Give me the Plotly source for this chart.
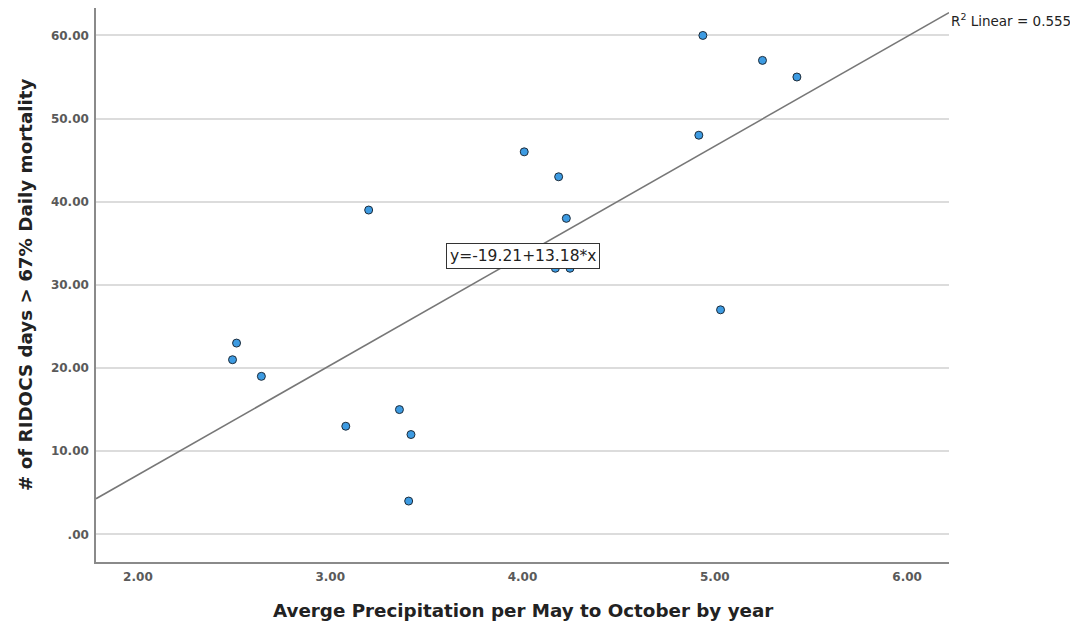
import plotly.graph_objects as go

# Data
precip = [2.513, 2.492, 2.642, 3.081, 3.360, 3.420, 3.408, 5.030, 4.938,
          4.917, 4.009, 4.188, 3.200, 4.228, 4.171, 4.247, 5.248, 5.427]
mort_days = [23, 21, 19, 13, 15, 12, 4, 27, 60,
             48, 46, 43, 39, 38, 32, 32, 57, 55]

intercept = -19.21
slope = 13.18
r2 = 0.555

x_range = [1.782, 6.218]
y_range = [-3.33, 63.3]
x_ticks = [2, 3, 4, 5, 6]
x_ticklabels = ["2.00", "3.00", "4.00", "5.00", "6.00"]
y_ticks = [0, 10, 20, 30, 40, 50, 60]
y_ticklabels = [".00", "10.00", "20.00", "30.00", "40.00", "50.00", "60.00"]

fit_x = x_range
fit_y = [intercept + slope * v for v in fit_x]

fig = go.Figure()
fig.add_trace(go.Scatter(
    x=fit_x, y=fit_y, mode="lines",
    line=dict(color="#777777", width=1.6),
    hoverinfo="skip", showlegend=False, cliponaxis=False))
fig.add_trace(go.Scatter(
    x=precip, y=mort_days, mode="markers",
    marker=dict(size=8, color="#3d9be2", line=dict(color="#1e2c3a", width=1)),
    showlegend=False, cliponaxis=False))

font_fam = "DejaVu Sans, sans-serif"
tick_font = dict(size=12, color="#5a5a5a", family=font_fam, weight="bold")

# the page body has an 8px margin, so the figure is 8px smaller and offset
fig.update_layout(
    width=1070, height=620,
    margin=dict(l=88, r=129, t=0, b=66, autoexpand=False),
    paper_bgcolor="white", plot_bgcolor="white",
    font=dict(family=font_fam),
    xaxis=dict(range=x_range, tickvals=x_ticks, ticktext=x_ticklabels,
               showgrid=False, zeroline=False, showline=True,
               linecolor="#8a8a8a", linewidth=1.5, ticks="",
               tickfont=tick_font, ticklabelstandoff=3),
    yaxis=dict(range=y_range, tickvals=y_ticks, ticktext=y_ticklabels,
               showgrid=True, gridcolor="#dcdcdc", gridwidth=1.5,
               zeroline=False, showline=True,
               linecolor="#8a8a8a", linewidth=1.5, ticks="",
               tickfont=tick_font, ticklabelstandoff=3),
    annotations=[
        dict(text="<b># of RIDOCS days > 67% Daily mortality</b>",
             xref="paper", yref="paper", x=0, y=0.5, xanchor="center",
             yanchor="middle", xshift=-71, textangle=-90, showarrow=False,
             font=dict(size=18.3, color="#222222", family=font_fam)),
        dict(text="<b>Averge Precipitation per May to October by year</b>",
             xref="paper", yref="paper", x=0.5, y=0, xanchor="center",
             yanchor="middle", yshift=-48, showarrow=False,
             font=dict(size=18.3, color="#222222", family=font_fam)),
        dict(text="y=-19.21+13.18*x", x=4.0, y=33.5, xref="x", yref="y",
             showarrow=False, bgcolor="white", bordercolor="#333333",
             borderwidth=1, borderpad=3,
             font=dict(size=15.5, color="#222222", family=font_fam)),
        dict(text="R<sup>2</sup> Linear = 0.555", x=x_range[1], y=fit_y[1],
             xref="x", yref="y", xanchor="left", yanchor="middle",
             showarrow=False, xshift=0, yshift=-7,
             font=dict(size=13.5, color="#222222", family=font_fam)),
    ],
    shapes=[
        dict(type="line", xref="paper", yref="paper",
             x0=(1065 - 88) / 853, x1=(1065 - 88) / 853,
             y0=-66 / 554, y1=1.0,
             line=dict(color="#f6e4c8", width=1.5)),
    ],
)

fig.write_html("out.html")
